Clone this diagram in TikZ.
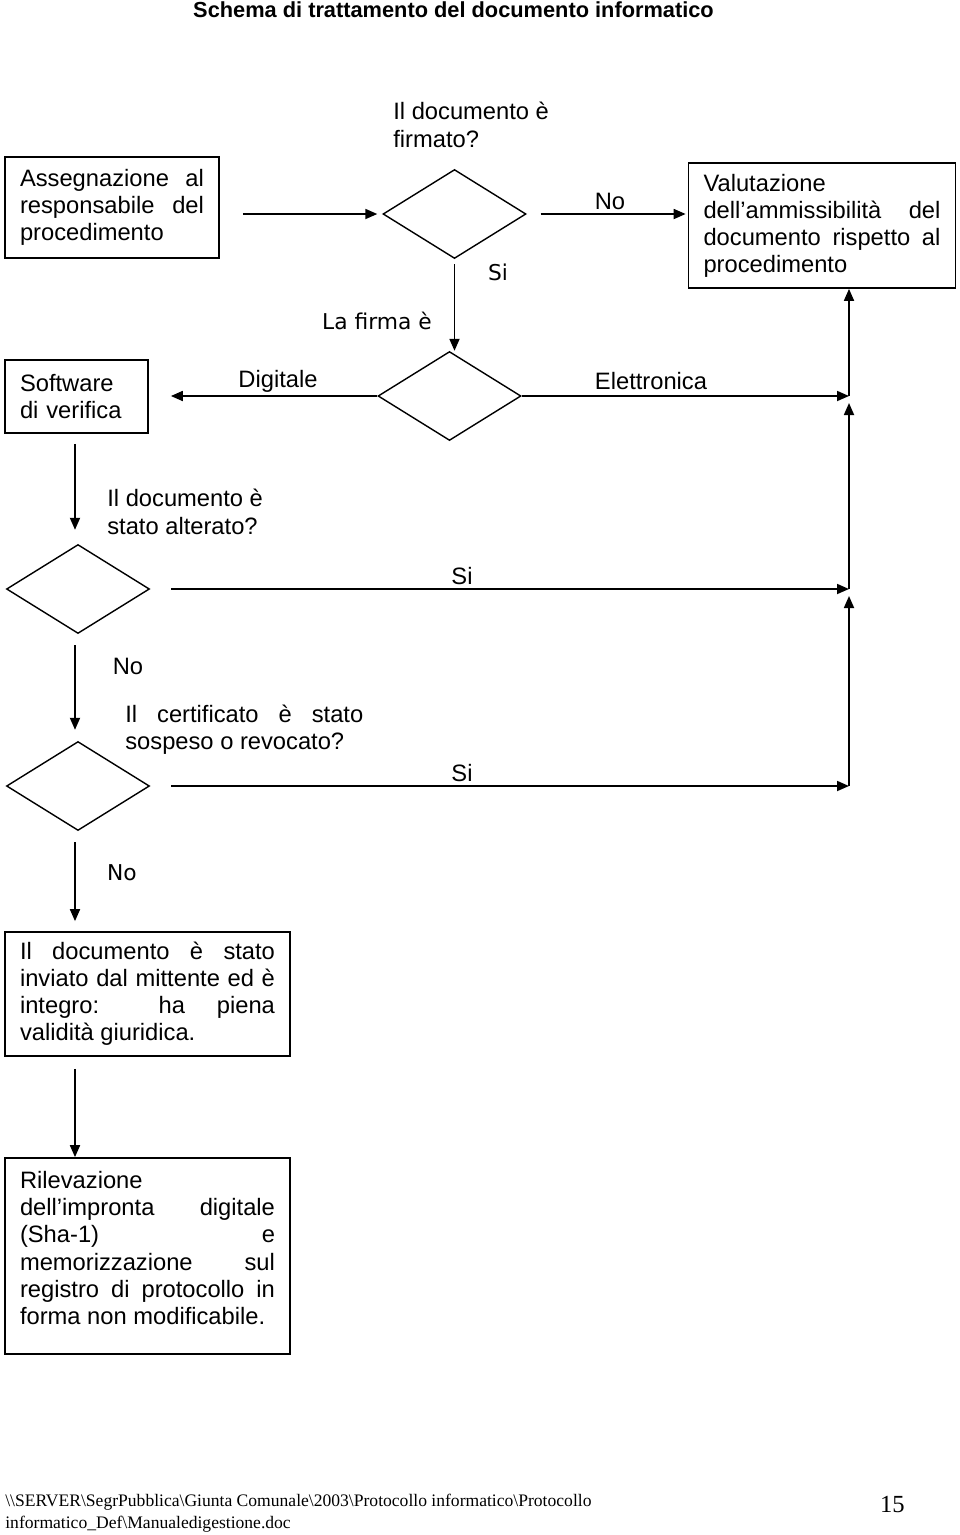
\documentclass[tikz,border=0pt]{standalone}
\usepackage{fontspec}
\setmainfont{Liberation Sans}
\newfontfamily\dejavu{DejaVu Sans}
\newfontfamily\timesf{Liberation Serif}
\usetikzlibrary{arrows.meta,positioning}
\usetikzlibrary{shapes}
\newcommand{\boxfont}{\fontsize{13.5}{15.4}\selectfont}
\newcommand{\altfont}{\dejavu\fontsize{12.4}{14}\selectfont}

\begin{document}
\begin{tikzpicture}[x=0.02cm, y=-0.02cm,
    box/.style={draw, line width=1pt, inner xsep=0.3cm, inner ysep=0pt, align=justify, font=\boxfont},
    decision/.style={draw, diamond, line width=0.8pt, minimum width=2.86cm, minimum height=1.78cm, inner sep=0pt},
    arr/.style={-{Triangle[length=0.24cm,width=0.2cm]}, line width=1pt},
    lbl/.style={inner sep=0pt, font=\boxfont}]
    \useasboundingbox (0,0) rectangle (960,1535);
    % title
    \node[inner sep=0pt, font=\bfseries\fontsize{12.4}{15}\selectfont] (T) at (453.5,10) {Schema di trattamento del documento informatico};
    % set up the boxes
    \node[box, text width=3.68cm, minimum height=2.02cm] (B1) at (112,207.5) {Assegnazione al\linebreak responsabile del\linebreak procedimento};
    \node[box, text width=4.74cm, minimum height=2.5cm] (B2) at (822,225.5) {Valutazione\linebreak dell’ammissibilità del\linebreak documento rispetto al\linebreak procedimento};
    \node[box, align=left, text width=2.26cm, minimum height=1.46cm] (B3) at (76.5,396.5) {Software\\di verifica};
    \node[box, text width=5.1cm, minimum height=2.48cm] (B4) at (147.5,994) {Il documento è stato\linebreak inviato dal mittente ed è\linebreak integro: ha piena\linebreak validità giuridica.};
    \node[box, text width=5.1cm, minimum height=3.92cm] (B5) at (147.5,1256) {Rilevazione\linebreak dell’impronta digitale\linebreak (Sha-1) e\linebreak memorizzazione sul\linebreak registro di protocollo in\linebreak forma non modificabile.\par\nointerlineskip\rule{0pt}{0.32cm}};
    % the decisions
    \node[decision] (D1) at (454.5,214) {};
    \node[decision] (D2) at (449.5,396) {};
    \node[decision] (D3) at (78,589) {};
    \node[decision] (D4) at (78,786) {};
    \coordinate (rail) at (849,0);
    \coordinate (col) at (75,0);
    % questions
    \node[lbl, anchor=base west, align=left] (Q1) at (393,147) {Il documento è\\firmato?};
    \node[lbl, anchor=base west, align=left] (Q2) at (107,534) {Il documento è\\stato alterato?};
    \node[lbl, anchor=base west, align=justify, text width=4.76cm] (Q3) at (125,722) {Il certificato è stato\linebreak sospeso o revocato?};
    % answers
    \node[lbl] (n1) at (610,201) {No};
    \node[lbl, font=\altfont] (s1) at (498,272) {Si};
    \node[lbl, font=\altfont] (f1) at (377,321) {La firma è};
    \node[lbl] (g1) at (278,381) {Digitale};
    \node[lbl] (e1) at (651,381) {Elettronica};
    \node[lbl] (s2) at (462,576) {Si};
    \node[lbl] (n2) at (128,666) {No};
    \node[lbl] (s3) at (462,773) {Si};
    \node[lbl, font=\altfont] (n3) at (122,873) {No};
    % footer
    \node[inner sep=0pt, anchor=base west, align=left, font=\timesf\fontsize{10}{12}\selectfont] (F1) at (5,1528) {\textbackslash\textbackslash SERVER\textbackslash SegrPubblica\textbackslash Giunta Comunale\textbackslash 2003\textbackslash Protocollo informatico\textbackslash Protocollo\\informatico\_Def\textbackslash Manualedigestione.doc};
    \node[inner sep=0pt, anchor=base east, font=\timesf\fontsize{14}{16}\selectfont] (F2) at (905,1512) {15};
    % draw arrows between them
    \draw[arr, shorten <=0.46cm, shorten >=0.1cm] (B1.east |- D1) -- (D1.west);
    \draw[arr, shorten <=0.28cm, shorten >=0.04cm] (D1.east) -- (D1.east -| B2.west);
    \draw[arr, shorten <=0.1cm] (D1.south) -- (D1.south |- D2.north);
    \draw[arr, shorten >=0.44cm] (D2.west) -- (D2.west -| B3.east);
    \draw[arr] (D2.east) -- (D2.east -| rail);
    \draw[arr, shorten <=0.2cm, shorten >=0.28cm] (col |- B3.south) -- (col |- D3.north);
    \draw[arr, shorten <=0.42cm] (D3.east) -- (D3.east -| rail);
    \draw[arr, shorten <=0.22cm, shorten >=0.22cm] (col |- D3.south) -- (col |- D4.north);
    \draw[arr, shorten <=0.42cm] (D4.east) -- (D4.east -| rail);
    \draw[arr, shorten <=0.22cm, shorten >=0.2cm] (col |- D4.south) -- (col |- B4.north);
    \draw[arr, shorten <=0.24cm] (col |- B4.south) -- (col |- B5.north);
    % the rail back to the evaluation
    \draw[arr, shorten >=0.14cm] (rail |- D4.east) -- (rail |- D3.east);
    \draw[arr, shorten >=0.14cm] (rail |- D3.east) -- (rail |- D2.east);
    \draw[arr] (rail |- D2.east) -- (rail |- B2.south);
\end{tikzpicture}
\end{document}
